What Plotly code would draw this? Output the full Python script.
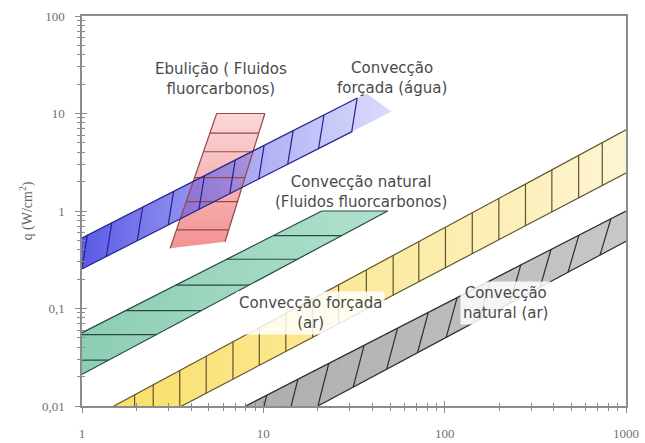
import numpy as np
import plotly.graph_objects as go

# ---------------- axis ticks ----------------
x_tickvals = [1, 10, 100, 1000]
x_ticktext = ["1", "10", "100", "1000"]
y_tickvals = [0.01, 0.1, 1, 10, 100]
y_ticktext = ["0,01", "0,1", "1", "10", "100"]

# ---------------- band edges: ([x0, x1], [y0, y1]) ----------------
# Convecção forçada (água) - blue
agua_top = ([1.0, 33.0], [0.53, 14.4])
agua_bottom = ([1.0, 51.0], [0.255, 10.5])
agua_fill_x_end_top = 37.0
agua_line_end_bottom = 31.0
agua_hatch_x = [1.07, 1.46, 2.16, 3.2, 4.73, 7.0, 10.1, 14.6, 21.6, 32.9]

# Ebulição (fluidos fluorcarbonos) - pink
ebul_left = ([3.06, 5.53], [0.414, 10.0])
ebul_right = ([6.15, 10.2], [0.484, 10.0])
ebul_hatch_y = [10.0, 6.3, 4.05, 2.2, 1.25, 0.64]

# Convecção natural (fluidos fluorcarbonos) - green
natfc_top = ([1.0, 21.0], [0.0564, 1.0])
natfc_bottom = ([1.0, 48.5], [0.0211, 1.0])
natfc_hatch_y = [1.0, 0.56, 0.32, 0.174, 0.095, 0.054, 0.0295]

# Convecção forçada (ar) - yellow
arforc_top = ([1.5, 1000.0], [0.01, 6.8])
arforc_bottom = ([3.55, 1000.0], [0.01, 2.45])
arforc_hatch_x = [1.95, 2.47, 3.46, 4.84, 6.8, 9.5, 13.3, 18.7, 26, 37, 52, 72,
                  101, 142, 199, 279, 390, 548, 740]

# Convecção natural (ar) - gray
arnat_top = ([8.0, 1000.0], [0.01, 1.0])
arnat_bottom = ([20.0, 1000.0], [0.01, 0.49])
arnat_hatch_x = [9.1, 13.5, 20, 31.3, 47.9, 70.8, 102, 155, 229, 336, 479, 719]

# ---------------- labels ----------------
label_text = ["Ebulição ( Fluidos<br>fluorcarbonos)",
              "Convecção<br>forçada (água)",
              "Convecção natural<br>(Fluidos fluorcarbonos)",
              "Convecção forçada<br>(ar)",
              "Convecção<br>natural (ar)"]
label_x = [5.84, 51.3, 34.6, 18.1, 216.8]
label_y = [22.6, 23.1, 1.585, 0.089, 0.114]
label_bg = [False, False, False, True, True]


def edge(e):
    (x0, x1), (y0, y1) = e
    lx0, lx1, ly0, ly1 = np.log10([x0, x1, y0, y1])
    s = (ly1 - ly0) / (lx1 - lx0)
    y_at = lambda x: float(10 ** (ly0 + s * (np.log10(x) - lx0)))
    x_at = lambda y: float(10 ** (lx0 + (np.log10(y) - ly0) / s))
    return y_at, x_at


def x_on_line(e, y):
    (x0, x1), (y0, y1) = e
    lx0, lx1, ly0, ly1 = np.log10([x0, x1, y0, y1])
    t = (np.log10(y) - ly0) / (ly1 - ly0)
    return float(10 ** (lx0 + t * (lx1 - lx0)))


fig = go.Figure()


def add_fill(xs, ys, gtype, c0, c1):
    fig.add_trace(go.Scatter(
        x=xs + [xs[0]], y=ys + [ys[0]], mode="lines", fill="toself",
        line=dict(width=0, color="rgba(0,0,0,0)"),
        fillgradient=dict(type=gtype, colorscale=[[0, c0], [1, c1]]),
        hoverinfo="skip", showlegend=False))


def add_segs(segs, color, width=1.2):
    xs, ys = [], []
    for (xa, ya, xb, yb) in segs:
        xs += [xa, xb, None]
        ys += [ya, yb, None]
    fig.add_trace(go.Scatter(x=xs, y=ys, mode="lines",
                             line=dict(color=color, width=width),
                             hoverinfo="skip", showlegend=False))


# ----- pink fill (ebulição) -----
pk = [x_on_line(ebul_left, 0.414), x_on_line(ebul_left, 10.0),
      x_on_line(ebul_right, 10.0), x_on_line(ebul_right, 0.484)]
add_fill(pk, [0.414, 10.0, 10.0, 0.484], "vertical",
         "rgba(243,140,140,0.95)", "rgba(250,215,215,0.95)")

# ----- blue fill (água) -----
at_y, at_x = edge(agua_top)
ab_y, ab_x = edge(agua_bottom)
xe = agua_fill_x_end_top
add_fill([1.0, xe, agua_bottom[0][1], 1.0],
         [at_y(1.0), at_y(xe), ab_y(agua_bottom[0][1]), ab_y(1.0)],
         "horizontal", "rgba(60,60,225,0.85)", "rgba(150,150,245,0.35)")

# ----- green fill -----
gt_y, gt_x = edge(natfc_top)
gb_y, gb_x = edge(natfc_bottom)
add_fill([0.9, natfc_top[0][1], natfc_bottom[0][1], 0.9],
         [gt_y(0.9), 1.0, 1.0, gb_y(0.9)],
         "horizontal", "rgba(140,205,180,1)", "rgba(175,225,205,1)")

# ----- yellow fill -----
yt_y, yt_x = edge(arforc_top)
yb_y, yb_x = edge(arforc_bottom)
add_fill([1.0, 1000.0, 1000.0, 1.0],
         [yt_y(1.0), yt_y(1000.0), yb_y(1000.0), yb_y(1.0)],
         "horizontal", "rgba(250,222,100,1)", "rgba(253,244,210,1)")

# ----- gray fill -----
rt_y, rt_x = edge(arnat_top)
rb_y, rb_x = edge(arnat_bottom)
add_fill([5.0, 1000.0, 1000.0, 5.0],
         [rt_y(5.0), rt_y(1000.0), rb_y(1000.0), rb_y(5.0)],
         "horizontal", "rgba(170,170,170,1)", "rgba(200,200,200,1)")

# ----- lines -----
# pink
pink_line = "rgb(150,70,70)"
segs = [(x_on_line(ebul_left, 0.414), 0.414, x_on_line(ebul_left, 10.0), 10.0),
        (x_on_line(ebul_right, 0.484), 0.484, x_on_line(ebul_right, 10.0), 10.0)]
for hy in ebul_hatch_y:
    segs.append((x_on_line(ebul_left, hy), hy, x_on_line(ebul_right, hy), hy))
add_segs(segs, pink_line)

# blue
blue_line = "rgb(35,35,140)"
segs = [(1.0, at_y(1.0), agua_top[0][1], at_y(agua_top[0][1])),
        (1.0, ab_y(1.0), agua_line_end_bottom, ab_y(agua_line_end_bottom))]
for hx in agua_hatch_x:
    bx = hx / 10 ** 0.03
    segs.append((bx, ab_y(bx), hx, at_y(hx)))
add_segs(segs, blue_line)

# green
green_line = "rgb(40,75,60)"
segs = [(0.9, gt_y(0.9), natfc_top[0][1], 1.0),
        (0.9, gb_y(0.9), natfc_bottom[0][1], 1.0)]
for hy in natfc_hatch_y:
    segs.append((gt_x(hy), hy, gb_x(hy), hy))
add_segs(segs, green_line)

# yellow
yel_line = "rgb(95,85,45)"
segs = [(1.0, yt_y(1.0), 1000.0, yt_y(1000.0)),
        (1.0, yb_y(1.0), 1000.0, yb_y(1000.0))]
for hx in arforc_hatch_x:
    segs.append((hx, yb_y(hx), hx, yt_y(hx)))
add_segs(segs, yel_line)

# gray
gray_line = "rgb(45,45,45)"
segs = [(5.0, rt_y(5.0), 1000.0, rt_y(1000.0)),
        (5.0, rb_y(5.0), 1000.0, rb_y(1000.0))]
for hx in arnat_hatch_x:
    tx = hx * 10 ** 0.06
    segs.append((hx, rb_y(hx), tx, rt_y(tx)))
add_segs(segs, gray_line)

# invisible trace on overlay axes for crossing ticks
fig.add_trace(go.Scatter(x=[1], y=[1], xaxis="x2", yaxis="y2", mode="markers",
                         marker=dict(opacity=0), hoverinfo="skip", showlegend=False))

# ----- labels -----
for t, lx, ly, bg in zip(label_text, label_x, label_y, label_bg):
    fig.add_annotation(x=np.log10(lx), y=np.log10(ly), xref="x", yref="y",
                       text=t, showarrow=False, align="center",
                       font=dict(family="DejaVu Sans", size=15, color="#4a4a4a"),
                       bgcolor="rgba(255,255,255,0.85)" if bg else "rgba(0,0,0,0)",
                       borderpad=2)

axis_col = "#8c8c8c"
tick_font = dict(family="Liberation Serif", size=13, color="#707070")
common_x = dict(type="log", range=[0, 3], showgrid=False, zeroline=False, automargin=False)
common_y = dict(type="log", range=[-2, 2], showgrid=False, zeroline=False, automargin=False)

fig.update_layout(
    width=645, height=443,
    margin=dict(l=82, r=19, t=16, b=37, autoexpand=False),
    paper_bgcolor="white", plot_bgcolor="white",
    showlegend=False,
    xaxis=dict(**common_x, showline=True, linecolor=axis_col, linewidth=1.5, mirror=True,
               ticks="outside", ticklen=5, tickcolor=axis_col, tickwidth=1,
               tickvals=x_tickvals, ticktext=x_ticktext, tickfont=tick_font,
               ticklabelstandoff=10,
               minor=dict(ticks="outside", ticklen=3, tickcolor=axis_col, dtick="D1")),
    yaxis=dict(**common_y, showline=True, linecolor=axis_col, linewidth=1.5, mirror=True,
               ticks="outside", ticklen=5, tickcolor=axis_col, tickwidth=1,
               tickvals=y_tickvals, ticktext=y_ticktext, tickfont=tick_font,
               ticklabelstandoff=8,
               minor=dict(ticks="outside", ticklen=3, tickcolor=axis_col, dtick="D1"),
               title=dict(text="q (W/cm<sup>2</sup>)",
                          font=dict(family="Liberation Serif", size=14, color="#666666"),
                          standoff=6)),
    xaxis2=dict(**common_x, overlaying="x", anchor="y2", side="bottom", showline=False,
                ticks="inside", ticklen=5, tickcolor=axis_col, tickvals=x_tickvals,
                showticklabels=False,
                minor=dict(ticks="inside", ticklen=3, tickcolor=axis_col, dtick="D1")),
    yaxis2=dict(**common_y, overlaying="y", anchor="x2", side="left", showline=False,
                ticks="inside", ticklen=5, tickcolor=axis_col, tickvals=y_tickvals,
                showticklabels=False,
                minor=dict(ticks="inside", ticklen=3, tickcolor=axis_col, dtick="D1")),
)

fig.write_html("out.html",
               config={"displayModeBar": False},
               post_script="document.body.style.margin='0px';"
                           "document.body.style.padding='0px';")
